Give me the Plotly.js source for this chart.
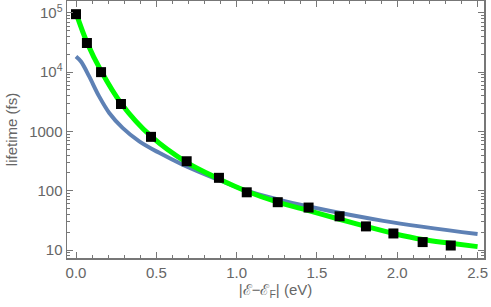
<!DOCTYPE html>
<html><head><meta charset="utf-8">
<script src="https://cdn.plot.ly/plotly-3.0.1.min.js"></script>
<style>html,body{margin:0;padding:0;background:#fff}#plot{width:491px;height:307px}</style>
</head><body><div id="plot"></div>
<script>
// Measured lifetimes (black squares)
const dataE = [0.0, 0.068, 0.156, 0.28, 0.467, 0.689, 0.89, 1.063, 1.256, 1.448, 1.641, 1.805, 1.976, 2.158, 2.333];
const dataTau = [95000, 31000, 10000, 2900, 810, 314, 165, 94, 64, 52, 37, 25, 19, 13.6, 11.9];
// Fit curve (green)
const fitE = [0.0, 0.07, 0.156, 0.28, 0.467, 0.689, 0.89, 1.063, 1.256, 1.448, 1.641, 1.805, 1.976, 2.158, 2.333, 2.5];
const fitTau = [100000, 31000, 10500, 3000, 830, 300, 158, 98, 64, 46, 33, 25, 19, 15, 13, 11.4];
// Theory curve (blue)
const thE = [0.0, 0.031, 0.082, 0.144, 0.207, 0.29, 0.394, 0.518, 0.664, 0.875, 1.062, 1.249, 1.448, 1.913, 2.5];
const thTau = [18400, 15100, 8470, 3900, 2050, 1150, 680, 435, 275, 157, 100, 72, 54, 31, 18.6];
const yTickVals = [10, 100, 1000, 10000, 100000];
const yTickText = ["10", "100", "1000", "10<sup>4</sup>", "10<sup>5</sup>"];
const xTickVals = [0, 0.5, 1.0, 1.5, 2.0, 2.5];
const xTickText = ["0.0", "0.5", "1.0", "1.5", "2.0", "2.5"];

const frame = '#777777';
const labelCol = '#666666';
const xr = [-0.056, 2.54];
const yr = [0.865, 5.2];

const traces = [
  {x: thE, y: thTau, mode: 'lines', line: {color: '#5E81B5', width: 4, shape: 'spline'}, hoverinfo: 'skip'},
  {x: fitE, y: fitTau, mode: 'lines', line: {color: '#00ff00', width: 5, shape: 'spline'}, hoverinfo: 'skip'},
  {x: dataE, y: dataTau, mode: 'markers', marker: {symbol: 'square', size: 10, color: '#000'}, hoverinfo: 'skip'},
  {x: [0], y: [100], xaxis: 'x2', yaxis: 'y2', mode: 'markers', marker: {opacity: 0}, hoverinfo: 'skip'}
];

const font = {family: 'Liberation Sans, Arial, sans-serif', size: 15, color: labelCol};
const layout = {
  width: 491, height: 307,
  margin: {l: 67, r: 7, t: 1, b: 49},
  paper_bgcolor: '#fff', plot_bgcolor: '#fff',
  showlegend: false,
  font: font,
  xaxis: {
    range: xr, tickvals: xTickVals, ticktext: xTickText,
    ticks: 'inside', ticklen: 6, tickwidth: 1, tickcolor: frame,
    showline: true, linecolor: frame, linewidth: 1.5, showgrid: false, zeroline: false,
    minor: {ticks: 'inside', dtick: 0.1, tick0: 0, ticklen: 3, tickcolor: frame, showgrid: false},
    title: {text: '|ℰ−ℰ<sub>F</sub>| (eV)', font: font, standoff: 5},
    tickfont: font
  },
  yaxis: {
    type: 'log', range: yr, tickvals: yTickVals, ticktext: yTickText,
    ticks: 'inside', ticklen: 6, tickwidth: 1, tickcolor: frame,
    showline: true, linecolor: frame, linewidth: 1.5, showgrid: false, zeroline: false,
    minor: {ticks: 'inside', dtick: 'D1', ticklen: 3, tickcolor: frame, showgrid: false},
    title: {text: 'lifetime (fs)', font: font, standoff: 8},
    tickfont: font
  },
  xaxis2: {
    overlaying: 'x', side: 'top', range: xr, tickvals: xTickVals, showticklabels: false,
    ticks: 'inside', ticklen: 6, tickcolor: frame, showline: true, linecolor: frame, linewidth: 1.5,
    showgrid: false, zeroline: false,
    minor: {ticks: 'inside', dtick: 0.1, tick0: 0, ticklen: 3, tickcolor: frame, showgrid: false}
  },
  yaxis2: {
    overlaying: 'y', side: 'right', type: 'log', range: yr, tickvals: yTickVals, showticklabels: false,
    ticks: 'inside', ticklen: 6, tickcolor: frame, showline: true, linecolor: frame, linewidth: 1.5,
    showgrid: false, zeroline: false,
    minor: {ticks: 'inside', dtick: 'D1', ticklen: 3, tickcolor: frame, showgrid: false}
  }
};
Plotly.newPlot('plot', traces, layout, {staticPlot: true, displayModeBar: false});
</script></body></html>
